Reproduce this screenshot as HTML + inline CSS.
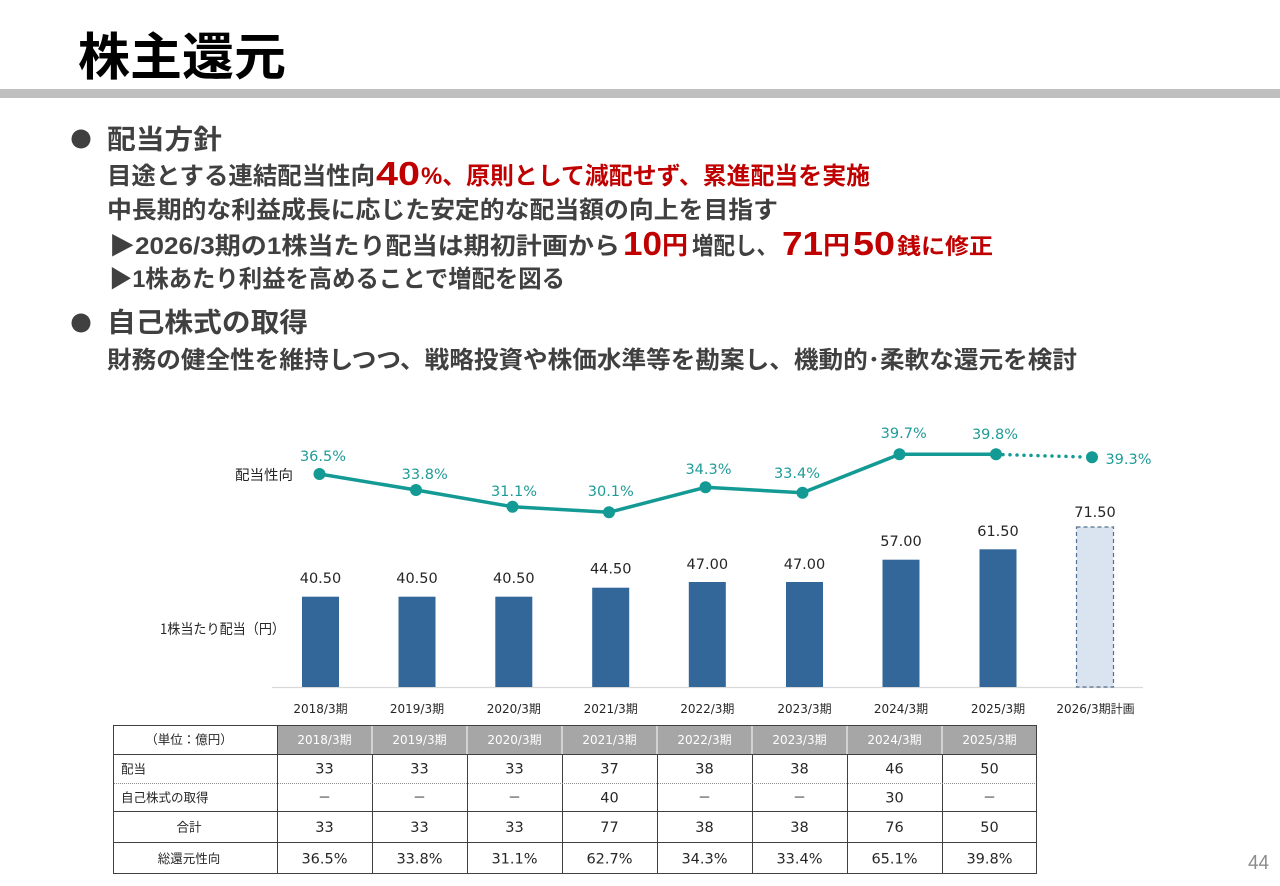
<!DOCTYPE html>
<html><head><meta charset="utf-8">
<style>
html,body{margin:0;padding:0;background:#fff;}
svg{display:block;}
.b{font-family:"Liberation Sans","Noto Sans CJK JP",sans-serif;font-weight:bold;}
.d{font-family:"DejaVu Sans","Noto Sans CJK JP",sans-serif;}
.j{font-family:"Noto Sans CJK JP",sans-serif;}
</style></head>
<body>
<svg width="1280" height="886" viewBox="0 0 1280 886" xmlns="http://www.w3.org/2000/svg">
<rect width="1280" height="886" fill="#fff"/>
<!-- Title -->
<text class="b" x="78" y="75" font-size="51" fill="#000" textLength="208" lengthAdjust="spacingAndGlyphs">株主還元</text>
<rect x="0" y="89" width="1280" height="9" fill="#bfbfbf"/>

<!-- Section 1 -->
<circle cx="81" cy="139" r="9.5" fill="#404040"/>
<text class="b" x="107" y="149" font-size="27" fill="#404040" textLength="115" lengthAdjust="spacingAndGlyphs">配当方針</text>

<text class="b" x="107" y="184" font-size="24" fill="#404040" textLength="268" lengthAdjust="spacingAndGlyphs">目途とする連結配当性向</text>
<text class="b" x="376" y="185" font-size="33" fill="#c00000" textLength="44" lengthAdjust="spacingAndGlyphs">40</text>
<text class="b" x="421" y="184" font-size="24" fill="#c00000" textLength="449" lengthAdjust="spacingAndGlyphs">%、原則として減配せず、累進配当を実施</text>

<text class="b" x="107" y="218" font-size="24" fill="#404040" textLength="671" lengthAdjust="spacingAndGlyphs">中長期的な利益成長に応じた安定的な配当額の向上を目指す</text>

<text class="b" x="109" y="254" font-size="24" fill="#404040" textLength="511" lengthAdjust="spacingAndGlyphs">▶2026/3期の1株当たり配当は期初計画から</text>
<text class="b" x="623" y="255" font-size="33" fill="#c00000" textLength="39" lengthAdjust="spacingAndGlyphs">10</text>
<text class="b" x="662" y="254" font-size="25" fill="#c00000" textLength="26" lengthAdjust="spacingAndGlyphs">円</text>
<text class="b" x="692" y="254" font-size="24" fill="#404040" textLength="86" lengthAdjust="spacingAndGlyphs">増配し、</text>
<text class="b" x="782" y="255" font-size="33" fill="#c00000" textLength="41" lengthAdjust="spacingAndGlyphs">71</text>
<text class="b" x="823" y="254" font-size="25" fill="#c00000" textLength="27" lengthAdjust="spacingAndGlyphs">円</text>
<text class="b" x="853" y="255" font-size="33" fill="#c00000" textLength="42" lengthAdjust="spacingAndGlyphs">50</text>
<text class="b" x="897" y="254" font-size="22" fill="#c00000" textLength="96" lengthAdjust="spacingAndGlyphs">銭に修正</text>

<text class="b" x="109" y="287" font-size="24" fill="#404040" textLength="456" lengthAdjust="spacingAndGlyphs">▶1株あたり利益を高めることで増配を図る</text>

<!-- Section 2 -->
<circle cx="81" cy="323" r="9.5" fill="#404040"/>
<text class="b" x="107" y="332" font-size="27" fill="#404040" textLength="201" lengthAdjust="spacingAndGlyphs">自己株式の取得</text>
<text class="b" x="107" y="368" font-size="24" fill="#404040" textLength="970" lengthAdjust="spacingAndGlyphs">財務の健全性を維持しつつ、戦略投資や株価水準等を勘案し、機動的･柔軟な還元を検討</text>

<!-- Chart labels -->
<text class="j" x="235" y="480" font-size="14" fill="#262626" textLength="58" lengthAdjust="spacingAndGlyphs">配当性向</text>
<text class="j" x="160" y="634" font-size="14" fill="#262626" textLength="125" lengthAdjust="spacingAndGlyphs">1株当たり配当（円）</text>

<!-- Axis -->
<line x1="272" y1="687.5" x2="1143" y2="687.5" stroke="#d9d9d9" stroke-width="1.2"/>

<!-- Bars -->
<g fill="#336699">
<rect x="302" y="596.7" width="37" height="90.3"/>
<rect x="398.5" y="596.7" width="37" height="90.3"/>
<rect x="495.3" y="596.7" width="37" height="90.3"/>
<rect x="592.2" y="587.7" width="37" height="99.3"/>
<rect x="688.8" y="582" width="37" height="105"/>
<rect x="786" y="582" width="37" height="105"/>
<rect x="882.5" y="559.7" width="37" height="127.3"/>
<rect x="979.5" y="549.3" width="37" height="137.7"/>
</g>
<rect x="1076.5" y="527" width="37" height="160" fill="#dae3f0" stroke="#55708f" stroke-width="1.2" stroke-dasharray="4 3"/>

<!-- Bar values -->
<g class="d" font-size="14.5" fill="#262626" text-anchor="middle">
<text x="320.5" y="583">40.50</text>
<text x="417" y="583">40.50</text>
<text x="513.8" y="583">40.50</text>
<text x="610.7" y="573.5">44.50</text>
<text x="707.3" y="569">47.00</text>
<text x="804.5" y="569">47.00</text>
<text x="901" y="546">57.00</text>
<text x="998" y="536">61.50</text>
<text x="1095" y="517">71.50</text>
</g>

<!-- Payout ratio line -->
<polyline points="319.5,474 416,490 512.5,506.7 609,512.3 705.5,487.3 802.5,492.7 899.5,454.3 996,454.3" fill="none" stroke="#149a94" stroke-width="3.5" stroke-linejoin="round"/>
<line x1="1003" y1="454.6" x2="1086" y2="457" stroke="#149a94" stroke-width="3.5" stroke-linecap="round" stroke-dasharray="0 7"/>
<g fill="#149a94">
<circle cx="319.5" cy="474" r="6"/>
<circle cx="416" cy="490" r="6"/>
<circle cx="512.5" cy="506.7" r="6"/>
<circle cx="609" cy="512.3" r="6"/>
<circle cx="705.5" cy="487.3" r="6"/>
<circle cx="802.5" cy="492.7" r="6"/>
<circle cx="899.5" cy="454.3" r="6"/>
<circle cx="996" cy="454.3" r="6"/>
<circle cx="1092" cy="457.3" r="6"/>
</g>
<g class="d" font-size="14.5" fill="#1f9c97" text-anchor="middle">
<text x="323" y="461">36.5%</text>
<text x="424.7" y="479">33.8%</text>
<text x="514" y="496">31.1%</text>
<text x="610.8" y="496">30.1%</text>
<text x="708.5" y="474">34.3%</text>
<text x="797" y="478">33.4%</text>
<text x="903.7" y="438">39.7%</text>
<text x="995" y="439">39.8%</text>
<text x="1128.5" y="464">39.3%</text>
</g>

<!-- X labels -->
<g class="d" font-size="12" fill="#262626" text-anchor="middle">
<text x="320.5" y="713">2018/3期</text>
<text x="417" y="713">2019/3期</text>
<text x="513.8" y="713">2020/3期</text>
<text x="610.7" y="713">2021/3期</text>
<text x="707.3" y="713">2022/3期</text>
<text x="804.5" y="713">2023/3期</text>
<text x="901" y="713">2024/3期</text>
<text x="998" y="713">2025/3期</text>
<text x="1095.5" y="713">2026/3期計画</text>
</g>

<!-- Table -->
<rect x="277" y="725" width="760" height="29" fill="#a6a6a6"/>
<g stroke="#ffffff" stroke-width="1">
<line x1="372" y1="725" x2="372" y2="754"/>
<line x1="467" y1="725" x2="467" y2="754"/>
<line x1="562" y1="725" x2="562" y2="754"/>
<line x1="657" y1="725" x2="657" y2="754"/>
<line x1="752" y1="725" x2="752" y2="754"/>
<line x1="847" y1="725" x2="847" y2="754"/>
<line x1="942" y1="725" x2="942" y2="754"/>
</g>
<g stroke="#404040" stroke-width="1" fill="none">
<rect x="113.5" y="725.5" width="923" height="148"/>
<line x1="277.5" y1="725" x2="277.5" y2="874"/>
<line x1="113" y1="754.5" x2="1037" y2="754.5"/>
<line x1="113" y1="811.5" x2="1037" y2="811.5"/>
<line x1="113" y1="842.5" x2="1037" y2="842.5"/>
<line x1="372.5" y1="754" x2="372.5" y2="874"/>
<line x1="467.5" y1="754" x2="467.5" y2="874"/>
<line x1="562.5" y1="754" x2="562.5" y2="874"/>
<line x1="657.5" y1="754" x2="657.5" y2="874"/>
<line x1="752.5" y1="754" x2="752.5" y2="874"/>
<line x1="847.5" y1="754" x2="847.5" y2="874"/>
<line x1="942.5" y1="754" x2="942.5" y2="874"/>
</g>
<line x1="114" y1="783.5" x2="1036" y2="783.5" stroke="#8c8c8c" stroke-width="1" stroke-dasharray="1 1"/>

<text class="j" x="189" y="744" font-size="12.5" fill="#262626" text-anchor="middle">（単位：億円）</text>
<g class="d" font-size="12" fill="#ffffff" text-anchor="middle">
<text x="324.5" y="744">2018/3期</text>
<text x="419.5" y="744">2019/3期</text>
<text x="514.5" y="744">2020/3期</text>
<text x="609.5" y="744">2021/3期</text>
<text x="704.5" y="744">2022/3期</text>
<text x="799.5" y="744">2023/3期</text>
<text x="894.5" y="744">2024/3期</text>
<text x="989.5" y="744">2025/3期</text>
</g>

<g class="j" font-size="12.5" fill="#262626">
<text x="121" y="773.5">配当</text>
<text x="121" y="802">自己株式の取得</text>
<text x="189" y="831.5" text-anchor="middle">合計</text>
<text x="189" y="863" text-anchor="middle">総還元性向</text>
</g>

<g class="d" font-size="14.5" fill="#262626" text-anchor="middle">
<text x="324.5" y="773.5">33</text><text x="419.5" y="773.5">33</text><text x="514.5" y="773.5">33</text><text x="609.5" y="773.5">37</text>
<text x="704.5" y="773.5">38</text><text x="799.5" y="773.5">38</text><text x="894.5" y="773.5">46</text><text x="989.5" y="773.5">50</text>

<text x="609.5" y="802.5">40</text><text x="894.5" y="802.5">30</text>

<text x="324.5" y="832">33</text><text x="419.5" y="832">33</text><text x="514.5" y="832">33</text><text x="609.5" y="832">77</text>
<text x="704.5" y="832">38</text><text x="799.5" y="832">38</text><text x="894.5" y="832">76</text><text x="989.5" y="832">50</text>

<text x="324.5" y="863.5">36.5%</text><text x="419.5" y="863.5">33.8%</text><text x="514.5" y="863.5">31.1%</text><text x="609.5" y="863.5">62.7%</text>
<text x="704.5" y="863.5">34.3%</text><text x="799.5" y="863.5">33.4%</text><text x="894.5" y="863.5">65.1%</text><text x="989.5" y="863.5">39.8%</text>
</g>
<g class="j" font-size="13" fill="#262626" text-anchor="middle">
<text x="324.5" y="802">－</text><text x="419.5" y="802">－</text><text x="514.5" y="802">－</text>
<text x="704.5" y="802">－</text><text x="799.5" y="802">－</text><text x="989.5" y="802">－</text>
</g>

<!-- Page number -->
<text x="1248" y="869" font-family="Liberation Sans, sans-serif" font-size="20" fill="#8c8c8c" textLength="21" lengthAdjust="spacingAndGlyphs">44</text>
</svg>
</body></html>
